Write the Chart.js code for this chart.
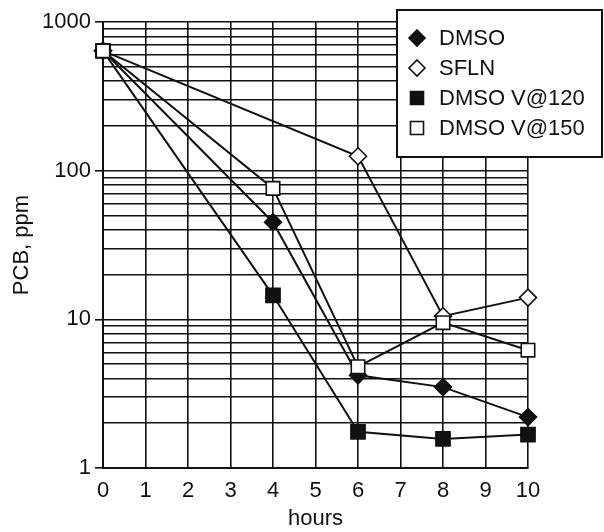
<!DOCTYPE html>
<html>
<head>
<meta charset="utf-8">
<style>
  html, body { margin: 0; padding: 0; background: #fff; }
  #wrap { width: 604px; height: 532px; }
</style>
<script src="https://cdn.jsdelivr.net/npm/chart.js@4/dist/chart.umd.min.js"></script>
</head>
<body>
<div id="wrap"><canvas id="pcb-chart" width="604" height="532"></canvas></div>
<script>
/* Data */
let hoursMain = [0, 4, 6, 8, 10]
let hoursSfln = [0, 6, 8, 10]
let dmso = [640, 45, 4.2, 3.5, 2.2]
let sfln = [640, 125, 10.5, 14]
let dmso120 = [640, 14.5, 1.75, 1.57, 1.68]
let dmso150 = [640, 76, 4.8, 9.5, 6.2]

let yGridValues = [1, 2, 3, 4, 5, 6, 7, 8, 9, 10, 20, 30, 40, 50, 60, 70, 80, 90,
    100, 200, 300, 400, 500, 600, 700, 800, 900, 1000]
let yTickLabels = [1, 10, 100, 1000]

let seriesNames = ['DMSO', 'SFLN', 'DMSO V@120', 'DMSO V@150']

function toPoints(xs, ys) {
    return xs.map((x, i) => ({ x: x, y: ys[i] }))
}

let ink = '#111'
let font = { family: '"Liberation Sans", Arial, sans-serif', size: 22 }

// marker style for each series
let markers = [
    { style: 'rectRot', radius: 8.5, fill: ink },
    { style: 'rectRot', radius: 8.5, fill: '#fff' },
    { style: 'rect', radius: 10, fill: ink },
    { style: 'rect', radius: 9.5, fill: '#fff' }
]

function makeDataset(i, points, order) {
    return {
        label: seriesNames[i],
        data: points,
        borderColor: ink,
        borderWidth: 2,
        tension: 0,
        clip: false,
        pointStyle: markers[i].style,
        pointRadius: markers[i].radius,
        pointBackgroundColor: markers[i].fill,
        pointBorderColor: ink,
        pointBorderWidth: 1.6,
        order: order
    }
}

// legend drawn as a boxed panel overlapping the top right of the plot
let boxLegend = {
    id: 'boxLegend',
    afterDraw(chart) {
        let ctx = chart.ctx
        ctx.save()
        ctx.fillStyle = '#fff'
        ctx.strokeStyle = ink
        ctx.lineWidth = 2
        ctx.fillRect(397, 10, 205, 147)
        ctx.strokeRect(397, 10, 205, 147)

        let rowY = [38, 68, 98, 128]
        ctx.font = font.size + 'px ' + font.family
        ctx.textBaseline = 'middle'
        ctx.textAlign = 'left'
        seriesNames.forEach((name, i) => {
            let m = markers[i]
            let x = 417
            let y = rowY[i]
            ctx.beginPath()
            if (m.style === 'rectRot') {
                ctx.moveTo(x, y - 8)
                ctx.lineTo(x + 8, y)
                ctx.lineTo(x, y + 8)
                ctx.lineTo(x - 8, y)
                ctx.closePath()
            } else {
                ctx.rect(x - 6.5, y - 6.5, 13, 13)
            }
            ctx.fillStyle = m.fill
            ctx.fill()
            ctx.lineWidth = 1.6
            ctx.strokeStyle = ink
            ctx.stroke()
            ctx.fillStyle = ink
            ctx.fillText(name, 439, y + 1)
        })
        ctx.restore()
    }
}

let ctx = document.querySelector('#pcb-chart').getContext('2d')

let pcbChart = new Chart(ctx, {
    type: 'line',
    data: {
        datasets: [
            makeDataset(0, toPoints(hoursMain, dmso), 3),
            makeDataset(1, toPoints(hoursSfln, sfln), 2),
            makeDataset(2, toPoints(hoursMain, dmso120), 1),
            makeDataset(3, toPoints(hoursMain, dmso150), 0)
        ]
    },
    options: {
        responsive: false,
        animation: false,
        layout: { padding: { top: 22, right: 76, bottom: 0, left: 0 } },
        plugins: {
            legend: { display: false },
            tooltip: { enabled: false }
        },
        scales: {
            x: {
                type: 'linear',
                min: 0,
                max: 10,
                ticks: { stepSize: 1, color: ink, font: font, padding: 10, maxRotation: 0 },
                grid: { color: ink, lineWidth: 1.6, drawTicks: false },
                border: { color: ink, width: 2 },
                title: { display: true, text: 'hours', color: ink, font: font, padding: { top: 0, bottom: 0 } },
                afterFit(scale) { scale.height = 64 }
            },
            y: {
                type: 'logarithmic',
                min: 1,
                max: 1000,
                afterBuildTicks(scale) {
                    scale.ticks = yGridValues.map(v => ({ value: v, major: yTickLabels.includes(v) }))
                },
                ticks: {
                    color: ink,
                    font: font,
                    padding: 4,
                    autoSkip: false,
                    callback: (v) => yTickLabels.includes(v) ? String(v) : ''
                },
                grid: {
                    color: ink,
                    lineWidth: 1.6,
                    tickLength: 8,
                    tickColor: (c) => yTickLabels.includes(c.tick.value) ? ink : 'rgba(0,0,0,0)'
                },
                border: { color: ink, width: 2 },
                title: { display: true, text: 'PCB, ppm', color: ink, font: font, padding: { top: 9, bottom: 0 } },
                afterFit(scale) { scale.width = 103 }
            }
        }
    },
    plugins: [boxLegend]
})
</script>
</body>
</html>
